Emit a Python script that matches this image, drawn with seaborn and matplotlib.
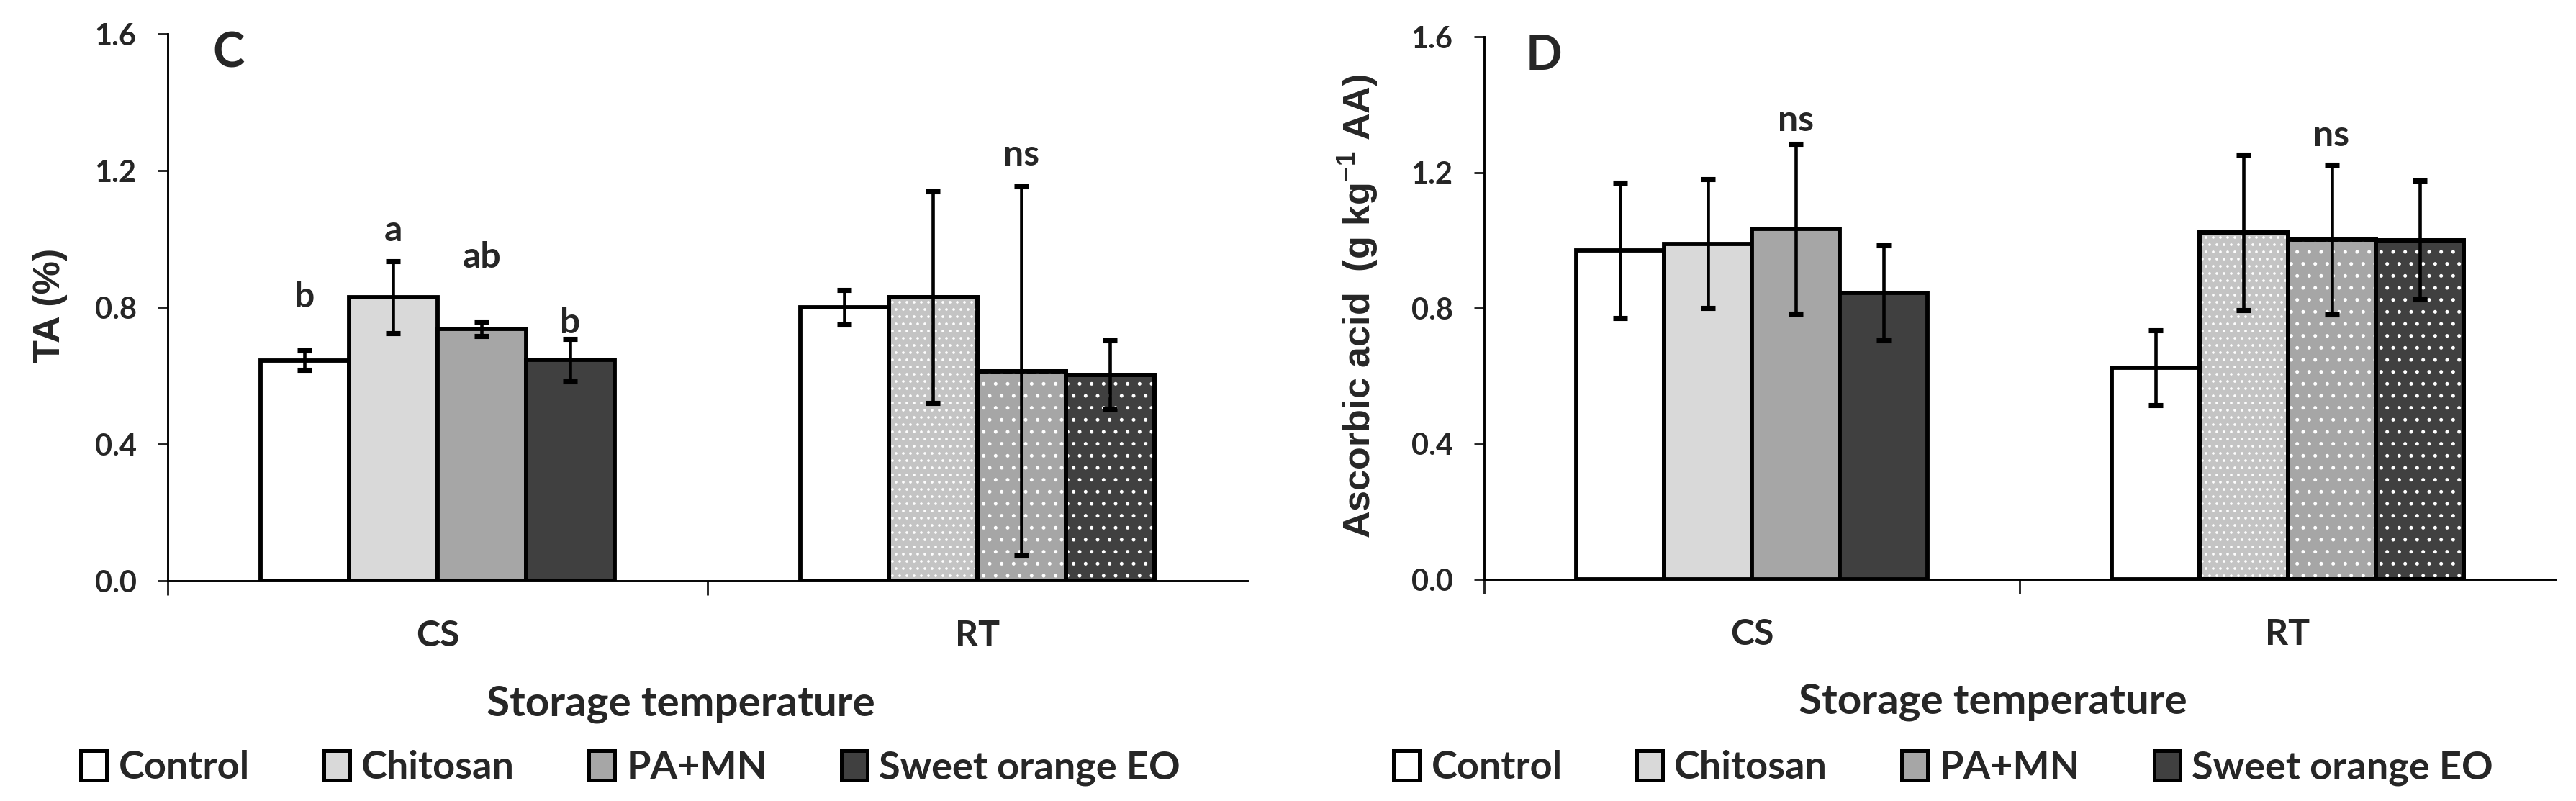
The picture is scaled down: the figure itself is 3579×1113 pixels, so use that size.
"""
Titratable acidity and ascorbic acid by storage temperature and coating
"""

import numpy as np
import pandas as pd
import matplotlib
matplotlib.use('Agg')
import matplotlib.pyplot as plt
from matplotlib.patches import Rectangle, Patch
from matplotlib.container import BarContainer
import seaborn as sns

# categories
storage = ['CS', 'RT']
treatments = ['Control', 'Chitosan', 'PA+MN', 'Sweet orange EO']

# panel C - TA (%)
ta_cs = [0.645, 0.83, 0.737, 0.646]
ta_rt = [0.80, 0.83, 0.613, 0.603]
ta_err_cs = [0.028, 0.105, 0.021, 0.062]
ta_err_rt = [0.05, 0.31, 0.54, 0.10]
ta_notes_cs = ['b', 'a', 'ab', 'b']
ta_notes_cs_y = [0.80, 0.994, 0.916, 0.724]
ta_notes_rt = ['', '', 'ns', '']
ta_notes_rt_y = [0, 0, 1.215, 0]

# panel D - ascorbic acid (g kg-1 AA)
aa_cs = [0.97, 0.99, 1.034, 0.845]
aa_rt = [0.624, 1.023, 1.002, 1.0]
aa_err_cs = [0.20, 0.19, 0.25, 0.14]
aa_err_rt = [0.11, 0.23, 0.22, 0.175]
aa_notes_cs = ['', '', 'ns', '']
aa_notes_cs_y = [0, 0, 1.322, 0]
aa_notes_rt = ['', '', 'ns', '']
aa_notes_rt_y = [0, 0, 1.277, 0]

bar_colors = ['#ffffff', '#d9d9d9', '#a6a6a6', '#404040']
rt_hatches = [None, '.....', '...', '...']

sns.set_style('ticks')
plt.rcParams['font.family'] = ['Lato', 'DejaVu Sans']
plt.rcParams['font.weight'] = 'bold'
plt.rcParams['hatch.linewidth'] = 0.4
plt.rcParams['mathtext.fontset'] = 'custom'
plt.rcParams['mathtext.rm'] = 'Liberation Sans'
plt.rcParams['mathtext.bf'] = 'Liberation Sans:bold'


def draw_panel(ax, cs, rt, err_cs, err_rt, notes, ylabel, letter, ylab_x):
    df = pd.DataFrame({
        'storage': np.repeat(storage, len(treatments)),
        'treatment': treatments * len(storage),
        'value': list(cs) + list(rt),
    })
    sns.barplot(data=df, x='storage', y='value', hue='treatment',
                order=storage, hue_order=treatments, palette=bar_colors,
                saturation=1, width=0.656, edgecolor='black', linewidth=1.4,
                errorbar=None, legend=False, ax=ax)

    errs = [err_cs, err_rt]
    bar_groups = [c for c in ax.containers if isinstance(c, BarContainer)]
    for hi, cont in enumerate(bar_groups):
        for ci, bar in enumerate(cont.patches):
            x = bar.get_x() + bar.get_width() / 2
            h = bar.get_height()
            ax.errorbar(x, h, yerr=errs[ci][hi], fmt='none', ecolor='black',
                        elinewidth=1.1, capsize=2.3, capthick=1.7, zorder=6)
            # dotted fill for room temperature bars
            if ci == 1 and rt_hatches[hi]:
                if hi == 1:
                    bar.set_facecolor('#c4c4c4')
                z = bar.get_zorder()
                ax.add_patch(Rectangle((bar.get_x(), 0), bar.get_width(), h,
                                       facecolor='none', edgecolor='white',
                                       hatch=rt_hatches[hi], linewidth=0,
                                       zorder=z + 0.1))
                ax.add_patch(Rectangle((bar.get_x(), 0), bar.get_width(), h,
                                       fill=False, edgecolor='black',
                                       linewidth=1.4, zorder=z + 0.2))
            txt, ty = notes[ci][0][hi], notes[ci][1][hi]
            if txt:
                ax.text(x, ty, txt, ha='center', va='baseline',
                        fontsize=12, fontweight='bold')

    ax.set_ylim(0, 1.6)
    ax.set_yticks(np.arange(0, 1.61, 0.4))
    ax.set_yticklabels([f'{v:.1f}' for v in np.arange(0, 1.61, 0.4)], fontsize=10)
    ax.set_xlim(-0.5, 1.5)
    ax.set_xticks([0, 1])
    ax.set_xticklabels(storage, fontsize=12, fontweight='bold')
    ax.set_xticks([-0.5, 0.5], minor=True)
    ax.tick_params(axis='x', which='major', length=0, pad=13)
    ax.tick_params(axis='x', which='minor', length=4.8, width=0.7, direction='out')
    ax.tick_params(axis='y', length=3.4, width=0.7, direction='out', pad=7)
    ax.set_xlabel('')
    ax.set_ylabel('')
    for s in ['top', 'right']:
        ax.spines[s].set_visible(False)
    for s in ['left', 'bottom']:
        ax.spines[s].set_linewidth(0.7)
        ax.spines[s].set_color('black')

    ax.text(0.475, -0.247, 'Storage temperature', transform=ax.transAxes,
            ha='center', va='baseline', fontsize=14, fontweight='bold')
    ax.text(ylab_x, 0.503, ylabel, transform=ax.transAxes, rotation=90,
            ha='center', va='center', fontsize=12.5, fontweight='bold',
            family='Liberation Sans')
    ax.text(0.056, 0.964, letter, transform=ax.transAxes, ha='center',
            va='center', fontsize=16, fontweight='bold')


fig = plt.figure(figsize=(3579 / 300, 1113 / 300), dpi=300)
ax_c = fig.add_axes([0.0651, 0.2749, 0.4191, 0.6828])
ax_d = fig.add_axes([0.5761, 0.2767, 0.4160, 0.6774])

draw_panel(ax_c, ta_cs, ta_rt, ta_err_cs, ta_err_rt,
           [(ta_notes_cs, ta_notes_cs_y), (ta_notes_rt, ta_notes_rt_y)],
           'TA (%)', 'C', -0.109)
draw_panel(ax_d, aa_cs, aa_rt, aa_err_cs, aa_err_rt,
           [(aa_notes_cs, aa_notes_cs_y), (aa_notes_rt, aa_notes_rt_y)],
           r'Ascorbic acid  (g kg$^{-1}$ AA)', 'D', -0.117)

handles = [Patch(facecolor=c, edgecolor='black', linewidth=1.2) for c in bar_colors]
for cx in [0.2448, 0.7544]:
    fig.legend(handles, treatments, loc='center', bbox_to_anchor=(cx, 0.0413),
               ncol=4, frameon=False, handlelength=0.67, handleheight=0.78,
               handletextpad=0.3, columnspacing=1.9,
               prop={'size': 13, 'weight': 'bold'})

fig.savefig('out.png', dpi=300, facecolor='white')
